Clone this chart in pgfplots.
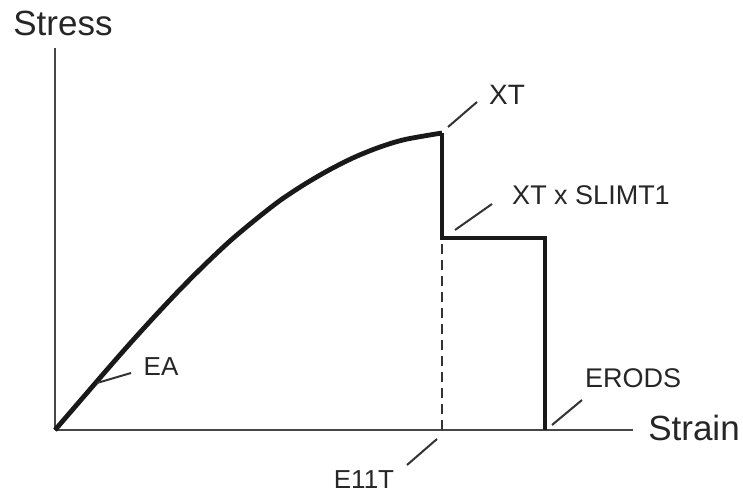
\documentclass[border=0pt]{standalone}
\usepackage{pgfplots}
\pgfplotsset{compat=1.18}
\usepackage{fontspec}
\setmainfont{Liberation Sans}

\begin{document}
\begin{tikzpicture}
\begin{axis}[
  scale only axis,
  width=578pt,height=382pt,
  xmin=0,xmax=578,ymin=0,ymax=382,
  axis lines=left,
  axis line style={-,line width=2.4pt,black!72},
  xtick=\empty,ytick=\empty,
  clip=false,
]
% stress-strain curve (pixel-like units)
\addplot[line width=4.8pt,black!90,smooth] coordinates {
(0,0)(25,29)(50,58)(75,86.5)(100,114)(125,140.5)(150,165.5)(175,189)(200,210)
(225,229.5)(250,246)(275,260.5)(300,273)(325,283)(350,290.5)(387,297)};
\addplot[line width=4.8pt,black!90,sharp plot] coordinates {
(387,297)(387,192)(490,192)(490,0)};
\addplot[line width=2.6pt,black!80,dash pattern=on 10pt off 6pt] coordinates {(387,0)(387,192)};
% leader lines
\addplot[line width=2pt,black!80] coordinates {(393,303)(422,328)};
\addplot[line width=2pt,black!80] coordinates {(400,200)(437,226)};
\addplot[line width=2pt,black!80] coordinates {(42,47)(76,57)};
\addplot[line width=2pt,black!80] coordinates {(497,5)(527,30)};
\addplot[line width=2pt,black!80] coordinates {(352,-35)(382,-9)};
% labels
\node[font=\fontsize{35}{40}\selectfont,text=black!85] at (axis cs:8,407) {Stress};
\node[font=\fontsize{35}{40}\selectfont,text=black!85] at (axis cs:639,2) {Strain};
\node[font=\fontsize{28}{32}\selectfont,text=black!85] at (axis cs:452,335) {XT};
\node[font=\fontsize{27}{32}\selectfont,text=black!85] at (axis cs:536,235) {XT x SLIMT1};
\node[font=\fontsize{26}{30}\selectfont,text=black!85] at (axis cs:106,63) {EA};
\node[font=\fontsize{27}{30}\selectfont,text=black!85] at (axis cs:578,52) {ERODS};
\node[font=\fontsize{26}{30}\selectfont,text=black!85] at (axis cs:309,-50) {E11T};
\coordinate (bl) at (axis cs:-55,-64);
\coordinate (tr) at (axis cs:688,430);
\end{axis}
\pgfresetboundingbox
\path[use as bounding box] (bl) rectangle (tr);
\end{tikzpicture}
\end{document}
